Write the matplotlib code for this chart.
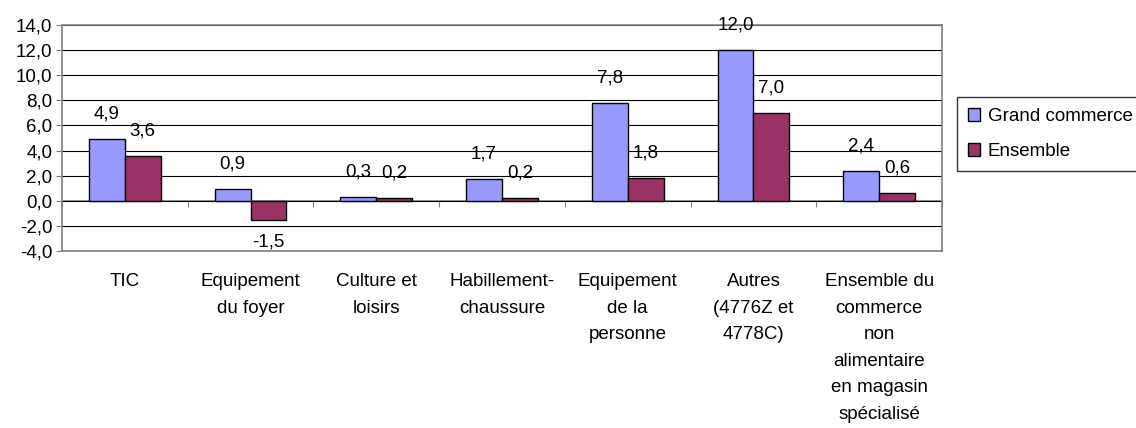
import numpy as np
import matplotlib.pyplot as plt
from matplotlib.ticker import FuncFormatter

plt.rcParams['font.family'] = ['Liberation Sans', 'DejaVu Sans']

categories = ['TIC', 'Equipement\ndu foyer', 'Culture et\nloisirs', 'Habillement-\nchaussure',
              'Equipement\nde la\npersonne', 'Autres\n(4776Z et\n4778C)',
              'Ensemble du\ncommerce\nnon\nalimentaire\nen magasin\nspécialisé']
grand_commerce = [4.9, 0.9, 0.3, 1.7, 7.8, 12.0, 2.4]
ensemble = [3.6, -1.5, 0.2, 0.2, 1.8, 7.0, 0.6]

fs = 13.5

fig = plt.figure(figsize=(11.36, 4.28), dpi=100)
ax = fig.add_axes([62/1136, 1-251/428, 880/1136, 226/428])

x = np.arange(len(categories))
w = 0.285
b1 = ax.bar(x - w/2, grand_commerce, w, color='#9999FF', edgecolor='black', linewidth=1.0,
            label='Grand commerce', zorder=3)
b2 = ax.bar(x + w/2, ensemble, w, color='#993366', edgecolor='black', linewidth=1.0,
            label='Ensemble', zorder=3)

def fmt(v):
    return f'{v:.1f}'.replace('.', ',')

for bars, vals in ((b1, grand_commerce), (b2, ensemble)):
    for r, v in zip(bars, vals):
        off = 18 if v >= 0 else -16
        ax.annotate(fmt(v), (r.get_x() + r.get_width()/2, v), xytext=(0, off),
                    textcoords='offset points', ha='center', va='center', fontsize=fs)

ax.set_xlim(-0.5, len(categories) - 0.5)
ax.set_ylim(-4, 14)
ax.set_yticks(np.arange(-4, 15, 2))
ax.yaxis.set_major_formatter(FuncFormatter(lambda v, p: fmt(v)))
ax.grid(axis='y', color='black', linewidth=0.8, zorder=0)
ax.axhline(0, color='#808080', linewidth=1.2, zorder=1)

ax.set_xticks(x)
ax.set_xticklabels(categories, fontsize=fs, linespacing=1.73, va='top')
ax.tick_params(axis='x', length=0, pad=16)
ax.tick_params(axis='y', labelsize=fs, length=4, color='#808080', direction='out', pad=3)

for s in ax.spines.values():
    s.set_color('#808080')
    s.set_linewidth(1.2)

zero_pos = 4 / 18
sec = ax.secondary_xaxis(zero_pos)
sec.set_xticks(np.arange(len(categories) + 1) - 0.5)
sec.set_xticklabels([])
sec.tick_params(length=4, color='#808080', direction='out')
sec.spines['bottom'].set_visible(False)
sec.spines['top'].set_visible(False)

fig.legend(handles=[b1, b2], loc='upper left', bbox_to_anchor=(957/1136, 1-97/428),
           fontsize=fs, frameon=True, fancybox=False, edgecolor='black',
           handlelength=0.65, handleheight=0.65, handletextpad=0.4, labelspacing=0.95,
           borderpad=0.6, borderaxespad=0)

fig.savefig('out.png', dpi=100)
